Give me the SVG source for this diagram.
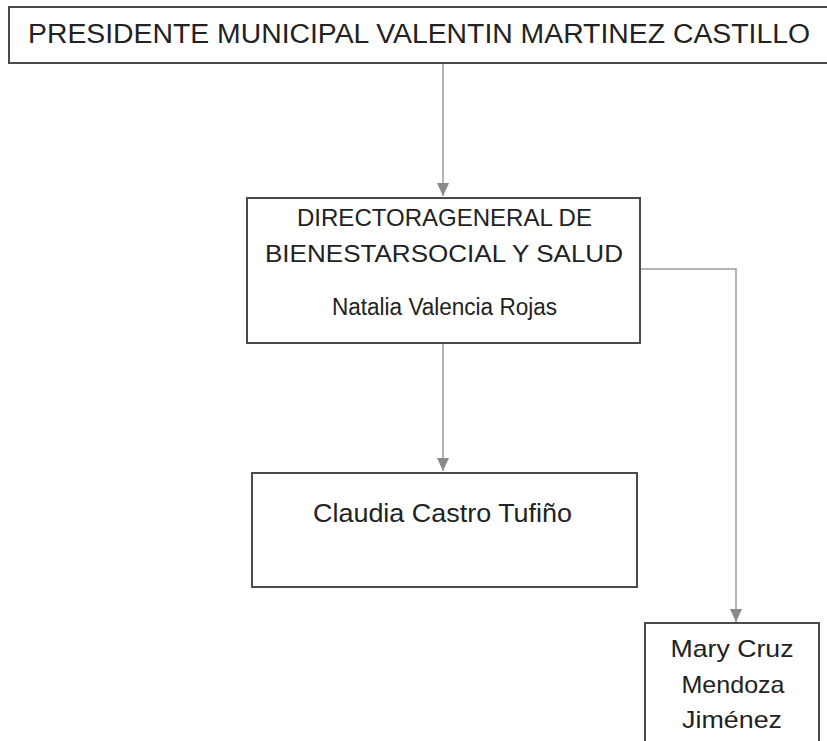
<svg xmlns="http://www.w3.org/2000/svg" width="827" height="741" viewBox="0 0 827 741">
<style>
.box{fill:#ffffff;stroke:#4a4a4a;stroke-width:2}
.t{font-family:"Liberation Sans",Arial,sans-serif;fill:#222222}
.c{fill:none;stroke:#9a9a9a;stroke-width:1.5}
</style>
<defs>
<marker id="ah" markerWidth="14" markerHeight="12" refX="13" refY="6" orient="auto" markerUnits="userSpaceOnUse">
<path d="M0,0 L13,6 L0,12 Z" fill="#8a8a8a"/>
</marker>
</defs>
<rect width="827" height="741" fill="#ffffff"/>
<g id="connectors">
<line class="c" x1="443" y1="63" x2="443" y2="196" marker-end="url(#ah)"/>
<line class="c" x1="443" y1="343" x2="443" y2="471" marker-end="url(#ah)"/>
<polyline class="c" points="641,269 736,269 736,622" marker-end="url(#ah)"/>
</g>
<g id="presidente">
<rect class="box" x="9" y="7" width="830" height="56"/>
<text class="t" x="28" y="43" font-size="27" textLength="782" lengthAdjust="spacingAndGlyphs">PRESIDENTE MUNICIPAL VALENTIN MARTINEZ CASTILLO</text>
</g>
<g id="directora">
<rect class="box" x="247" y="198" width="393" height="145"/>
<text class="t" x="297" y="226" font-size="24" textLength="295" lengthAdjust="spacingAndGlyphs">DIRECTORAGENERAL DE</text>
<text class="t" x="265" y="262" font-size="24" textLength="358" lengthAdjust="spacingAndGlyphs">BIENESTARSOCIAL Y SALUD</text>
<text class="t" x="332" y="315" font-size="23" textLength="225" lengthAdjust="spacingAndGlyphs">Natalia Valencia Rojas</text>
</g>
<g id="claudia">
<rect class="box" x="252" y="473" width="385" height="114"/>
<text class="t" x="313" y="522" font-size="25" textLength="259" lengthAdjust="spacingAndGlyphs">Claudia Castro Tufiño</text>
</g>
<g id="mary">
<rect class="box" x="645" y="623" width="174" height="130"/>
<text class="t" x="732" y="657" font-size="24" text-anchor="middle" textLength="123" lengthAdjust="spacingAndGlyphs">Mary Cruz</text>
<text class="t" x="733" y="693" font-size="24" text-anchor="middle" textLength="103" lengthAdjust="spacingAndGlyphs">Mendoza</text>
<text class="t" x="732" y="728" font-size="24" text-anchor="middle" textLength="100" lengthAdjust="spacingAndGlyphs">Jiménez</text>
</g>
</svg>
